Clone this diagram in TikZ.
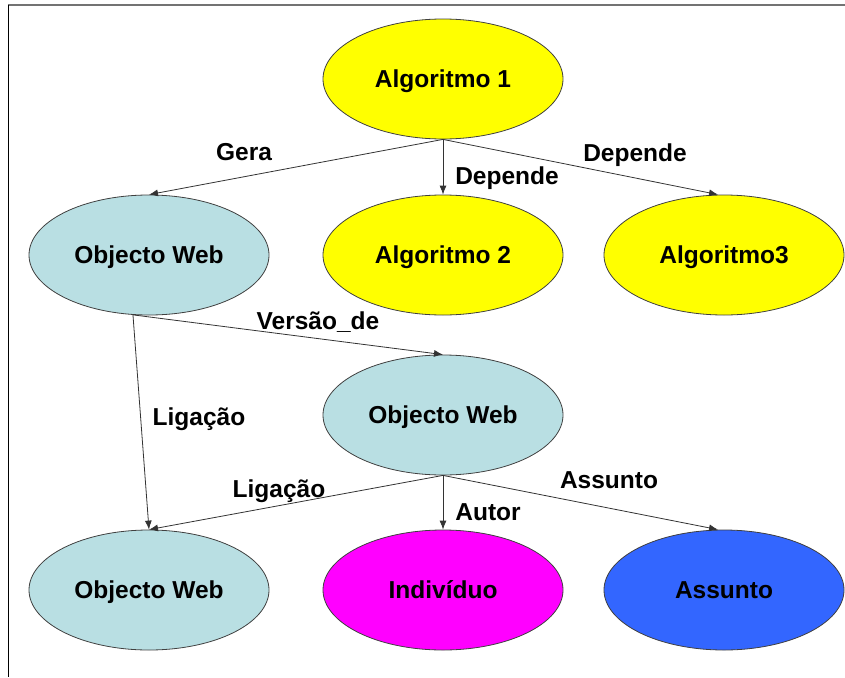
\documentclass[tikz,border=0pt]{standalone}
\usepackage{fontspec}
\setmainfont{Liberation Sans}
\usetikzlibrary{shapes.geometric,arrows.meta}
\definecolor{amarelo}{HTML}{FFFF00}
\definecolor{azulclaro}{HTML}{B9DFE3}
\definecolor{rosa}{HTML}{FF00FF}
\definecolor{azul}{HTML}{3366FF}
\tikzset{
  elipse/.style={ellipse, draw=black!75, line width=0.8pt, minimum width=240pt,
    minimum height=120pt, inner sep=0pt, text height=17.5pt, text depth=0pt,
    font=\fontsize{24.5}{28}\selectfont\bfseries},
  seta/.style={-{Latex[length=9pt,width=7pt]}, draw=black!80, line width=0.8pt},
  rotulo/.style={inner sep=0pt, font=\fontsize{24.5}{28}\selectfont\bfseries}
}
\begin{document}
\begin{tikzpicture}[x=1pt,y=-1pt]
  % 図の範囲
  \useasboundingbox (0,0) rectangle (845,677);
  % 上と左の枠
  \draw[black!55, line width=2pt] (8,5) -- (845,5);
  \draw[black, line width=0.8pt] (8,5) -- (8,677);
  % アルゴリズムの楕円
  \node[elipse, fill=amarelo] (alg1) at (443,79) {Algoritmo 1};
  \node[elipse, fill=amarelo] (alg2) at (443,255) {Algoritmo 2};
  \node[elipse, fill=amarelo] (alg3) at (724,255) {Algoritmo3};
  % Webオブジェクトの楕円
  \node[elipse, fill=azulclaro] (web1) at (149,255) {Objecto Web};
  \node[elipse, fill=azulclaro] (web2) at (443,415) {Objecto Web};
  \node[elipse, fill=azulclaro] (web3) at (149,590) {Objecto Web};
  % 個人と主題の楕円
  \node[elipse, fill=rosa] (indiv) at (443,590) {Indivíduo};
  \node[elipse, fill=azul] (assunto) at (724,590) {Assunto};
  % 矢印
  \draw[seta] (alg1.south) -- (web1.north);
  \draw[seta] (alg1.south) -- (alg2.north);
  \draw[seta] (alg1.south) -- ([xshift=-6pt]alg3.north);
  \draw[seta] (web1.255) -- (web2.north);
  \draw[seta] (web1.255) -- (web3.north);
  \draw[seta] (web2.south) -- (web3.north);
  \draw[seta] (web2.south) -- (indiv.north);
  \draw[seta] (web2.south) -- ([xshift=-6pt]assunto.north);
  % 矢印のラベル
  \node[rotulo] (lgera) at (244,152) {Gera};
  \node[rotulo] (ldep1) at (507,178) {Depende};
  \node[rotulo] (ldep2) at (635,155) {Depende};
  \node[rotulo] (lversao) at (318,322) {Versão\_de};
  \node[rotulo] (lliga1) at (199,419) {Ligação};
  \node[rotulo] (lliga2) at (279,491) {Ligação};
  \node[rotulo] (lautor) at (488,512) {Autor};
  \node[rotulo] (lassunto) at (609,480) {Assunto};
\end{tikzpicture}
\end{document}
